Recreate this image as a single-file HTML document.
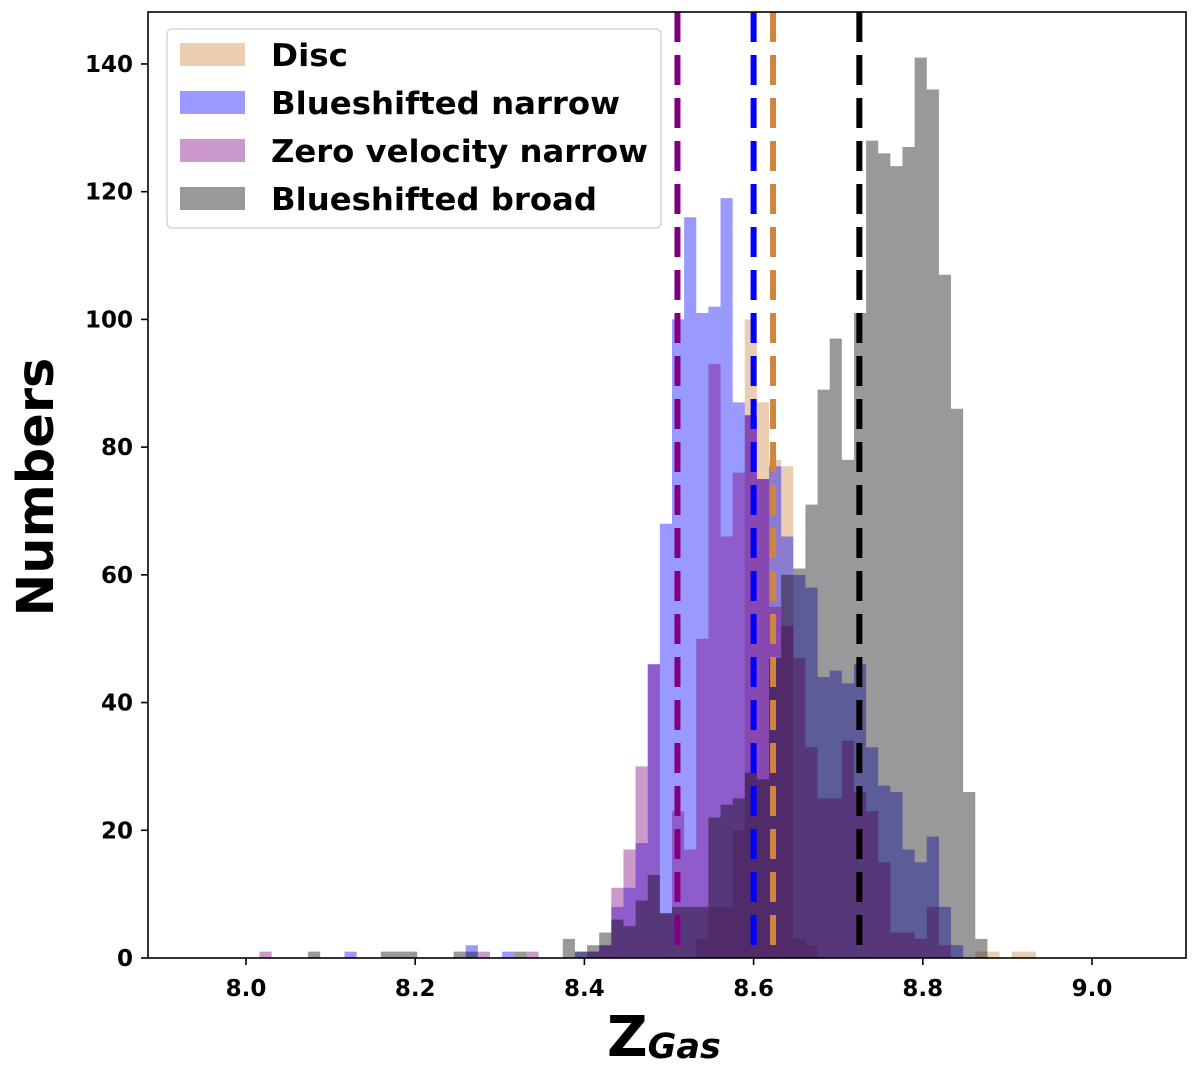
<!DOCTYPE html>
<html><head><meta charset="utf-8"><style>
html,body{margin:0;padding:0;background:#fff}
svg{display:block;font-family:"DejaVu Sans","Liberation Sans",sans-serif;font-weight:bold}
</style></head><body>
<svg id="chart" width="1200" height="1072" viewBox="0 0 1200 1072" xmlns="http://www.w3.org/2000/svg">
<g id="bars"></g>
<g id="lines"></g>
<rect x="148" y="12" width="1038" height="946" fill="none" stroke="#000" stroke-width="1.6"/>
<g id="xticks"></g>
<g id="yticks"></g>
<text x="0" y="0" transform="translate(53,487) rotate(-90)" text-anchor="middle" font-size="51">Numbers</text>
<text x="607" y="1056" font-size="56">Z<tspan font-size="35" font-style="italic" dy="2">Gas</tspan></text>
<g>
<rect x="167" y="29" width="494" height="199" rx="5" fill="#fff" fill-opacity="0.8" stroke="#d6d6d6" stroke-width="1.5"/>
<g><rect x="180" y="43" width="65" height="23" fill="peru" fill-opacity="0.4"/><text x="271" y="66" font-size="31.5" textLength="77" lengthAdjust="spacingAndGlyphs">Disc</text></g>
<g><rect x="180" y="91" width="65" height="23" fill="blue" fill-opacity="0.4"/><text x="271" y="114" font-size="31.5" textLength="349" lengthAdjust="spacingAndGlyphs">Blueshifted narrow</text></g>
<g><rect x="180" y="139" width="65" height="23" fill="purple" fill-opacity="0.4"/><text x="271" y="162" font-size="31.5" textLength="377" lengthAdjust="spacingAndGlyphs">Zero velocity narrow</text></g>
<g><rect x="180" y="187" width="65" height="23" fill="#000" fill-opacity="0.4"/><text x="271" y="210" font-size="31.5" textLength="326" lengthAdjust="spacingAndGlyphs">Blueshifted broad</text></g>
</g>
</svg>
<script>
const binStart = 7.9873;
const binWidth = 0.01434;
const nBins = 68;
const discCounts = [[38,3],[39,8],[40,8],[41,20],[42,100],[43,87],[44,78],[45,77],[46,3],[47,2],[61,1],[62,1],[64,1],[65,1]];
const blueNarrowCounts = [[9,1],[19,2],[22,1],[28,1],[29,1],[30,2],[31,8],[32,11],[33,18],[34,46],[35,68],[36,100],[37,116],[38,101],[39,102],[40,119],[41,87],[42,85],[43,75],[44,77],[45,66],[46,60],[47,58],[48,44],[49,45],[50,43],[51,46],[52,33],[53,27],[54,26],[55,17],[56,15],[57,19],[58,8],[59,2]];
const zeroVelCounts = [[2,1],[20,1],[24,1],[29,1],[30,2],[31,11],[32,17],[33,30],[34,46],[35,7],[36,23],[37,17],[38,50],[39,93],[40,66],[41,76],[42,85],[43,75],[44,55],[45,52],[46,47],[47,33],[48,25],[49,25],[50,34],[51,26],[52,23],[53,15],[54,4],[55,4],[56,3],[57,8],[58,2]];
const broadCounts = [[6,1],[12,1],[13,1],[14,1],[18,1],[19,1],[23,1],[27,3],[28,1],[29,2],[30,4],[31,6],[32,5],[33,9],[34,13],[35,7],[36,8],[37,8],[38,8],[39,22],[40,24],[41,25],[42,29],[43,28],[44,47],[45,60],[46,61],[47,71],[48,89],[49,97],[50,78],[51,101],[52,128],[53,126],[54,124],[55,127],[56,141],[57,136],[58,107],[59,86],[60,26],[61,3]];
const medians = [8.51, 8.60, 8.623, 8.725];
const xTicks = [8.0, 8.2, 8.4, 8.6, 8.8, 9.0];
const yTicks = [0, 20, 40, 60, 80, 100, 120, 140];

const NS = "http://www.w3.org/2000/svg";
const X = v => 246 + (v - 8.0) * 846;
const Y = v => 958 - v * 6.386;

function mk(tag, attrs, parent) {
  const e = document.createElementNS(NS, tag);
  for (const k in attrs) e.setAttribute(k, attrs[k]);
  parent.appendChild(e);
  return e;
}
const barsG = document.getElementById('bars');
const series = [
  [discCounts, 'peru', 'disc'],
  [blueNarrowCounts, 'blue', 'blueshifted-narrow'],
  [zeroVelCounts, 'purple', 'zero-velocity-narrow'],
  [broadCounts, '#000', 'blueshifted-broad']
];
series.forEach(([data, col, nm]) => {
  const full = new Array(nBins).fill(0);
  data.forEach(([i, c]) => { if (i < nBins) full[i] = c; });
  let d = 'M' + X(binStart) + ' ' + Y(0);
  for (let i = 0; i < nBins; i++) {
    const x0 = X(binStart + i * binWidth), x1 = X(binStart + (i + 1) * binWidth);
    d += ' L' + x0.toFixed(2) + ' ' + Y(full[i]).toFixed(2) + ' L' + x1.toFixed(2) + ' ' + Y(full[i]).toFixed(2);
  }
  d += ' L' + X(binStart + nBins * binWidth) + ' ' + Y(0) + ' Z';
  const p = mk('path', {d: d, fill: col, 'fill-opacity': 0.4}, barsG);
  
  
});
const lineCols = ['purple', 'blue', 'peru', '#000'];
const lineNames = ['zero-velocity-median-line', 'blueshifted-narrow-median-line', 'disc-median-line', 'blueshifted-broad-median-line'];
const linesG = document.getElementById('lines');
medians.forEach((m, k) => {
  const l = mk('line', {x1: X(m), x2: X(m), y1: 12, y2: 958, stroke: lineCols[k], 'stroke-width': 6, 'stroke-dasharray': '30 13'}, linesG);
  
  
});
const xg = document.getElementById('xticks');
xTicks.forEach(t => {
  const tk = mk('line', {x1: X(t), x2: X(t), y1: 958, y2: 965, stroke: '#000', 'stroke-width': 1.6}, xg);
  
  
  const tx = mk('text', {x: X(t), y: 996, 'text-anchor': 'middle', 'font-size': 23}, xg);
  tx.textContent = t.toFixed(1);
  
  
});
const yg = document.getElementById('yticks');
yTicks.forEach(t => {
  const tk = mk('line', {x1: 141, x2: 148, y1: Y(t), y2: Y(t), stroke: '#000', 'stroke-width': 1.6}, yg);
  
  
  const tx = mk('text', {x: 133, y: Y(t) + 8, 'text-anchor': 'end', 'font-size': 23}, yg);
  tx.textContent = t;
  
  
});
</script>
</body></html>
